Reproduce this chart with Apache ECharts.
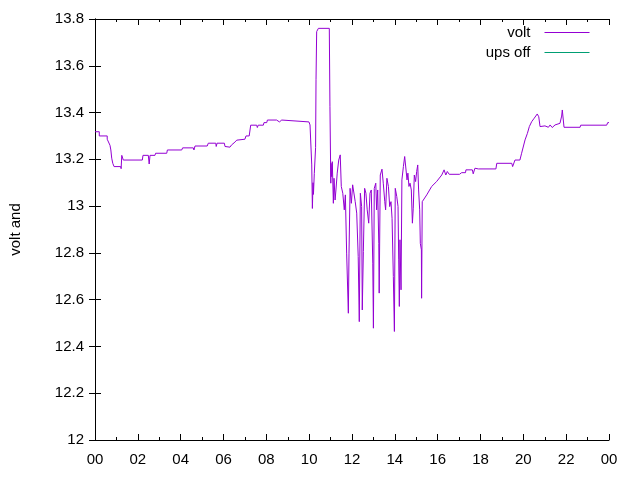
<!DOCTYPE html>
<html>
<head>
<meta charset="utf-8">
<script src="https://cdn.jsdelivr.net/npm/echarts@6/dist/echarts.min.js"></script>
<style>
  html, body { margin: 0; padding: 0; background: #fff; }
  #main { width: 640px; height: 480px; }
</style>
</head>
<body>
<div id="main"></div>
<script>
// 时间 (小时) 和 电压
var hours = [
    0, 0.20, 0.20, 0.57, 0.57, 0.66, 0.70, 0.74, 0.78, 0.83, 0.89, 1.20, 1.22, 1.25, 1.29, 1.32,
    2.21, 2.24, 2.49, 2.53, 2.57, 2.80, 2.83, 3.35, 3.38, 4.05, 4.09, 4.59, 4.62, 4.67, 5.24, 5.29,
    5.64, 5.66, 5.70, 6.04, 6.07, 6.30, 6.38, 6.49, 6.62, 6.69, 7.00, 7.05, 7.20, 7.27, 7.55, 7.58,
    7.62, 7.86, 7.89, 8.02, 8.05, 8.48, 8.51, 8.61, 8.64, 8.72, 8.76, 9.99, 10.04, 10.12, 10.15, 10.18,
    10.20, 10.24, 10.30, 10.32, 10.35, 10.43, 10.94, 10.97, 11.01, 11.02, 11.05, 11.08, 11.13, 11.16, 11.21, 11.25,
    11.31, 11.38, 11.45, 11.50, 11.57, 11.64, 11.69, 11.75, 11.83, 11.86, 11.91, 11.97, 12.03, 12.09, 12.15, 12.22,
    12.29, 12.34, 12.39, 12.45, 12.48, 12.53, 12.59, 12.65, 12.71, 12.78, 12.84, 12.90, 12.97, 13.00, 13.04, 13.11,
    13.15, 13.20, 13.25, 13.27, 13.32, 13.40, 13.46, 13.53, 13.57, 13.63, 13.70, 13.76, 13.82, 13.87, 13.93, 13.98,
    14.02, 14.09, 14.15, 14.18, 14.21, 14.24, 14.29, 14.33, 14.40, 14.46, 14.52, 14.57, 14.61, 14.66, 14.71, 14.77,
    14.82, 14.86, 14.91, 14.97, 15.02, 15.07, 15.11, 15.16, 15.19, 15.24, 15.25, 15.28, 15.49, 15.72, 15.95, 16.19,
    16.30, 16.38, 16.45, 16.54, 17.02, 17.04, 17.12, 17.30, 17.32, 17.62, 17.66, 17.74, 17.90, 18.72, 18.76, 19.46,
    19.50, 19.61, 19.84, 19.92, 20.08, 20.19, 20.28, 20.39, 20.51, 20.65, 20.72, 20.78, 20.87, 21.01, 21.17, 21.25,
    21.35, 21.48, 21.71, 21.79, 21.82, 21.90, 22.65, 22.68, 23.89, 23.94, 24
];
var volt = [
    13.318, 13.318, 13.300, 13.300, 13.286, 13.286, 13.26, 13.24, 13.205, 13.183, 13.169, 13.169, 13.16, 13.217, 13.217, 13.197,
    13.197, 13.217, 13.217, 13.180, 13.217, 13.217, 13.226, 13.226, 13.240, 13.240, 13.249, 13.249, 13.240, 13.257, 13.257, 13.269,
    13.269, 13.255, 13.269, 13.269, 13.255, 13.252, 13.262, 13.270, 13.282, 13.286, 13.286, 13.300, 13.300, 13.346, 13.346, 13.336,
    13.346, 13.346, 13.357, 13.357, 13.368, 13.368, 13.360, 13.360, 13.368, 13.368, 13.360, 13.360, 13.347, 13.176, 12.99, 13.10,
    13.05, 13.14, 13.25, 13.54, 13.746, 13.760, 13.760, 13.425, 13.098, 13.183, 13.126, 13.190, 13.012, 13.119, 13.026, 13.069,
    13.141, 13.197, 13.219, 13.084, 13.055, 12.984, 13.048, 12.799, 12.542, 12.799, 13.076, 13.012, 13.091, 13.098, 13.019, 12.970,
    12.784, 12.506, 13.055, 12.998, 12.556, 12.806, 13.076, 13.055, 12.984, 12.927, 13.055, 13.069, 12.756, 12.478, 13.076, 13.098,
    12.984, 13.069, 12.841, 12.628, 13.133, 13.158, 13.098, 13.019, 12.984, 13.119, 13.084, 12.998, 13.019, 12.948, 12.699, 12.464,
    13.076, 13.041, 12.998, 12.770, 12.571, 12.856, 12.642, 13.112, 13.169, 13.212, 13.219, 13.112, 13.141, 13.084, 13.098, 13.069,
    12.927, 12.991, 13.133, 13.105, 13.148, 13.176, 13.069, 12.984, 12.841, 12.813, 12.606, 13.019, 13.048, 13.084, 13.105, 13.133,
    13.155, 13.133, 13.148, 13.136, 13.136, 13.130, 13.143, 13.143, 13.155, 13.155, 13.138, 13.162, 13.159, 13.159, 13.183, 13.183,
    13.169, 13.197, 13.197, 13.226, 13.283, 13.311, 13.340, 13.361, 13.376, 13.394, 13.382, 13.340, 13.333, 13.343, 13.337, 13.347,
    13.336, 13.347, 13.354, 13.385, 13.411, 13.337, 13.337, 13.346, 13.346, 13.357, 13.357
];
// ups off 没有数据
var upsOff = [];
var seriesNames = ['volt', 'ups off'];
var colors = ['#9400d3', '#009e73'];

var voltData = hours.map(function (h, i) { return [h, volt[i]]; });

var chart = echarts.init(document.getElementById('main'));
var font = 'Liberation Sans, Arial, sans-serif';

function xAxisOf(pos, showLabel) {
    return {
        type: 'value', position: pos, min: 0, max: 24, interval: 2,
        axisLine: { show: true, onZero: false, lineStyle: { color: '#000', width: 1 } },
        axisTick: { show: true, inside: true, length: 6, lineStyle: { color: '#000' } },
        minorTick: { show: true, splitNumber: 2, length: 3, lineStyle: { color: '#000' } },
        splitLine: { show: false },
        axisLabel: {
            show: showLabel, color: '#000', fontSize: 15, fontFamily: font, margin: 12,
            formatter: function (v) { var h = v % 24; return (h < 10 ? '0' : '') + h; }
        }
    };
}
function yAxisOf(pos, showLabel) {
    return {
        type: 'value', position: pos, min: 12, max: 13.8, interval: 0.2,
        name: showLabel ? 'volt and' : '', nameLocation: 'middle', nameGap: 72,
        nameTextStyle: { color: '#000', fontSize: 15, fontFamily: font },
        axisLine: { show: true, lineStyle: { color: '#000', width: 1 } },
        axisTick: { show: true, inside: true, length: 6, lineStyle: { color: '#000' } },
        splitLine: { show: false },
        axisLabel: {
            show: showLabel, color: '#000', fontSize: 15, fontFamily: font, margin: 11,
            formatter: function (v) { return String(parseFloat(v.toFixed(1))); }
        }
    };
}

var option = {
    animation: false,
    backgroundColor: '#fff',
    color: colors,
    grid: { left: 95, right: 31, top: 19, bottom: 40 },
    legend: {
        orient: 'vertical', right: 45, top: 20, align: 'right',
        itemWidth: 45, itemHeight: 13, itemGap: 5,
        textStyle: { color: '#000', fontSize: 15, fontFamily: font, width: 60, align: 'right', padding: [0, 9, 0, 0] },
        data: seriesNames.map(function (n, i) {
            return {
                name: n,
                itemStyle: { color: colors[i], opacity: 0 },
                lineStyle: { color: colors[i], width: 1 }
            };
        })
    },
    xAxis: [xAxisOf('bottom', true), xAxisOf('top', false)],
    yAxis: [yAxisOf('left', true), yAxisOf('right', false)],
    series: [
        {
            name: seriesNames[0], type: 'line', data: voltData, symbol: 'none',
            lineStyle: { color: colors[0], width: 1 }, itemStyle: { color: colors[0] }
        },
        {
            name: seriesNames[1], type: 'line', data: upsOff, symbol: 'none',
            lineStyle: { color: colors[1], width: 1 }, itemStyle: { color: colors[1] }
        }
    ]
};
chart.setOption(option);
</script>
</body>
</html>
